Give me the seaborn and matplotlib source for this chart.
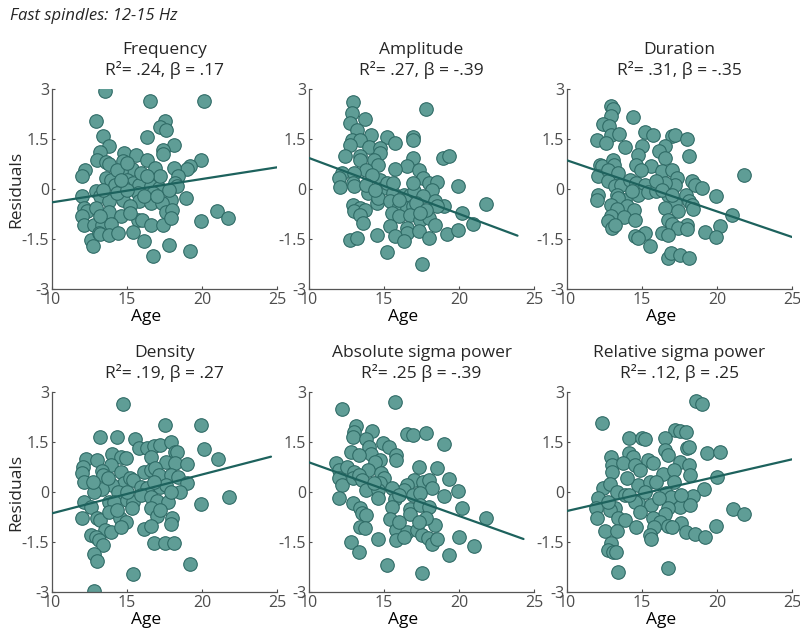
import numpy as np
import pandas as pd
import seaborn as sns
import matplotlib.pyplot as plt

# residuals vs age, fast spindles
freq_age = [13.5, 16.5, 20.1, 12.9, 17.5, 17.2, 17.6, 13.4, 16.3, 13.8, 18.1, 17.4, 17.4, 14.8, 15.6, 13.2,
            13.0, 13.6, 13.8, 14.7, 16.3, 19.95, 19.2, 19.0, 12.2, 12.0, 16.9, 18.1, 15.3, 14.6, 13.6, 13.9,
            18.4, 18.2, 18.3, 15.0, 15.4, 15.8, 16.9, 16.6, 17.1, 14.2, 14.7, 12.9, 13.2, 12.0, 15.7, 16.7,
            18.9, 17.9, 14.7, 13.8, 15.8, 16.6, 17.3, 12.1, 12.3, 12.9, 13.8, 15.2, 17.6, 18.0, 12.0, 14.6,
            21.0, 21.7, 19.9, 15.7, 16.0, 16.6, 17.4, 17.9, 12.1, 12.8, 13.3, 13.9, 12.6, 12.7, 13.1, 13.2,
            13.8, 14.4, 15.4, 16.1, 17.8, 19.2, 16.7, 14.3, 15.0, 15.9, 17.2, 13.4, 14.3, 15.0, 16.1, 17.0,
            17.8, 13.2, 15.2, 14.6, 16.3]
freq_res = [2.95, 2.63, 2.63, 2.03, 2.05, 1.85, 1.78, 1.58, 1.56, 1.30, 1.33, 1.18, 1.06, 1.08, 1.03, 1.10,
            0.86, 0.80, 0.76, 0.83, 0.88, 0.86, 0.68, 0.60, 0.56, 0.38, 0.63, 0.63, 0.60, 0.53, 0.33, 0.28,
            0.38, 0.18, 0.08, 0.28, 0.18, 0.13, 0.18, 0.08, 0.03, 0.13, 0.08, -0.07, -0.22, -0.20, -0.12, -0.12,
            -0.27, -0.32, -0.32, -0.37, -0.37, -0.42, -0.42, -0.57, -0.67, -0.57, -0.70, -0.52, -0.70, -0.62, -0.80, -0.80,
            -0.67, -0.87, -0.97, -0.92, -0.92, -1.07, -1.07, -0.87, -1.07, -1.07, -1.07, -1.04, -1.54, -1.70, -1.32, -1.34,
            -1.37, -1.32, -1.30, -1.57, -1.69, -1.87, -2.02, 0.58, 0.78, 0.48, 0.38, -0.02, -0.12, -0.02, -0.22, -0.22,
            -0.02, -0.82, -0.72, 0.28, 0.38]

amp_age = [12.93, 12.87, 13.76, 12.76, 13.2, 17.8, 14.1, 15.2, 15.76, 16.9, 16.9, 12.87, 13.4, 12.7, 14.0, 14.7,
           14.7, 12.4, 13.4, 13.4, 16.9, 18.9, 19.3, 14.3, 14.6, 16.5, 17.3, 13.8, 15.76, 12.2, 12.0, 12.04,
           13.0, 12.9, 13.0, 14.7, 14.2, 14.9, 15.2, 17.6, 18.0, 18.5, 18.2, 19.9, 13.9, 15.6, 16.3, 16.7,
           17.0, 17.6, 14.5, 14.6, 12.9, 13.4, 13.0, 13.7, 15.4, 16.0, 16.5, 16.9, 19.0, 18.4, 18.5, 20.2,
           21.8, 13.4, 13.6, 15.5, 16.0, 16.7, 17.4, 18.0, 18.4, 20.9, 15.4, 16.5, 16.5, 17.3, 15.76, 16.3,
           18.0, 19.2, 19.9, 14.5, 12.7, 13.2, 15.2, 17.5, 13.8, 15.6, 16.9, 14.4, 16.0, 17.1, 17.8, 17.4]
amp_res = [2.60, 2.28, 2.11, 1.98, 1.78, 2.41, 1.63, 1.56, 1.38, 1.55, 1.48, 1.48, 1.46, 1.33, 1.26, 1.23,
           1.08, 1.00, 0.98, 0.86, 0.93, 0.93, 1.00, 0.86, 0.73, 0.68, 0.58, 0.58, 0.60, 0.48, 0.33, 0.06,
           0.48, 0.18, 0.10, 0.28, 0.43, 0.03, 0.18, 0.33, 0.18, 0.20, -0.02, 0.08, -0.12, -0.12, -0.17, -0.17,
           -0.07, -0.22, -0.42, -0.27, -0.47, -0.57, -0.67, -0.62, -0.37, -0.52, -0.57, -0.52, -0.50, -0.37, -0.52, -0.72,
           -0.44, -0.79, -1.02, -0.72, -0.82, -0.79, -0.92, -0.87, -1.07, -1.04, -1.10, -1.17, -1.32, -1.25, -1.42, -1.57,
           -1.47, -1.35, -1.22, -1.37, -1.52, -1.47, -1.90, -2.24, 0.13, 0.18, 0.18, -0.02, -0.32, -0.42, -0.62, -0.72]

dur_age = [12.96, 13.07, 12.92, 14.4, 12.4, 12.8, 12.96, 13.45, 12.0, 12.6, 15.2, 15.7, 17.0, 17.2, 18.0, 13.85,
           15.0, 14.7, 16.5, 16.1, 16.5, 18.1, 12.2, 12.3, 13.07, 13.1, 14.6, 15.6, 14.9, 12.07, 12.74, 13.4,
           16.3, 17.0, 21.8, 17.3, 17.2, 12.74, 13.2, 13.6, 14.2, 14.6, 15.2, 16.5, 18.3, 18.5, 19.0, 12.07,
           12.0, 13.3, 14.7, 15.4, 15.9, 16.7, 17.9, 19.9, 13.85, 13.4, 17.2, 18.1, 18.3, 12.9, 14.0, 16.5,
           13.3, 14.45, 18.4, 17.4, 21.0, 12.96, 12.74, 13.8, 14.5, 16.7, 17.0, 18.0, 13.0, 13.2, 17.4, 18.0,
           20.2, 19.2, 19.95, 15.2, 14.5, 14.7, 16.3, 16.7, 15.5, 16.7, 16.9, 17.5, 18.15, 15.9, 16.3, 14.3,
           17.0]
dur_res = [2.48, 2.40, 2.18, 2.15, 1.96, 1.88, 1.63, 1.66, 1.46, 1.38, 1.71, 1.61, 1.58, 1.61, 1.50, 1.25,
           1.28, 1.03, 1.30, 1.13, 0.93, 1.00, 0.73, 0.68, 0.86, 0.73, 0.73, 0.68, 0.58, 0.38, 0.58, 0.48,
           0.53, 0.58, 0.43, 0.33, 0.13, 0.23, 0.08, 0.13, 0.28, 0.18, 0.13, 0.18, 0.23, 0.13, 0.03, -0.17,
           -0.34, -0.17, -0.17, -0.10, -0.07, -0.17, -0.17, -0.22, -0.32, -0.27, -0.42, -0.37, -0.47, -0.47, -0.52, -0.57,
           -0.60, -0.64, -0.60, -0.67, -0.79, -0.82, -0.97, -0.85, -0.92, -0.92, -1.04, -1.07, -1.17, -1.07, -1.17, -1.20,
           -1.12, -1.29, -1.45, -1.32, -1.40, -1.47, -1.32, -1.39, -1.72, -2.07, -1.92, -1.97, -2.07, 0.23, -0.02, -0.07,
           -0.17]

dens_age = [14.73, 17.56, 19.96, 13.2, 14.3, 15.56, 20.16, 21.04, 15.8, 16.3, 16.8, 17.2, 17.9, 18.2, 18.3, 14.0,
            14.6, 14.9, 12.27, 12.07, 12.0, 12.1, 13.0, 16.6, 17.6, 18.2, 19.0, 13.9, 13.3, 13.4, 14.6, 16.1,
            16.6, 16.9, 17.1, 17.9, 18.4, 19.0, 14.8, 15.2, 15.4, 14.0, 12.9, 13.3, 12.8, 14.4, 15.9, 16.3,
            17.2, 17.6, 18.5, 12.1, 12.6, 13.8, 14.1, 15.0, 15.4, 15.9, 16.6, 17.0, 17.7, 19.96, 21.8, 12.0,
            13.0, 13.2, 13.8, 14.5, 14.96, 15.3, 16.6, 17.0, 18.0, 13.5, 13.9, 12.6, 12.9, 13.1, 13.4, 14.6,
            16.1, 16.6, 17.96, 16.8, 17.5, 18.1, 12.8, 13.0, 19.2, 15.4, 12.8, 12.7, 13.7, 15.0, 16.8, 17.9,
            14.3, 17.2]
dens_res = [2.63, 2.01, 2.01, 1.66, 1.66, 1.59, 1.29, 0.98, 1.31, 1.31, 1.39, 1.41, 1.49, 1.21, 1.21, 1.13,
            1.06, 1.03, 0.98, 0.76, 0.56, 0.29, 0.96, 1.06, 0.91, 0.86, 0.83, 0.81, 0.63, 0.51, 0.61, 0.61,
            0.66, 0.71, 0.51, 0.51, 0.46, 0.26, 0.26, 0.41, 0.36, 0.21, 0.06, 0.09, 0.01, 0.01, 0.16, 0.11,
            0.16, 0.21, -0.01, -0.29, -0.44, -0.29, -0.29, -0.24, -0.29, -0.09, -0.14, -0.27, -0.29, -0.35, -0.16, -0.79,
            -0.79, -0.84, -0.59, -0.79, -0.89, -0.49, -0.49, -0.71, -0.77, -1.14, -1.19, -1.29, -1.34, -1.44, -1.59, -1.04,
            -1.11, -1.01, -0.97, -1.54, -1.54, -1.52, -1.86, -2.06, -2.17, -2.47, -2.96, 0.31, 0.41, 0.01, 0.31, 0.01,
            -0.54, -0.54]

abs_age = [12.2, 15.7, 13.1, 13.0, 12.9, 14.2, 13.8, 16.5, 16.9, 17.8, 19.0, 14.9, 15.3, 14.0, 14.1, 12.8,
           13.3, 15.8, 15.8, 14.7, 14.4, 11.8, 12.0, 12.0, 12.2, 12.5, 13.0, 12.9, 13.9, 14.8, 17.3, 18.5,
           13.3, 13.5, 15.0, 14.7, 17.0, 17.6, 18.0, 19.3, 18.2, 16.5, 16.3, 13.8, 14.6, 15.5, 19.9, 16.9,
           17.4, 12.0, 19.0, 14.6, 15.7, 12.9, 13.4, 13.5, 13.8, 15.5, 16.7, 16.7, 17.4, 18.0, 20.2, 21.8,
           15.4, 13.4, 13.7, 15.8, 16.5, 17.2, 18.4, 17.5, 17.9, 18.2, 18.5, 15.8, 16.3, 14.6, 12.8, 13.3,
           20.0, 21.0, 19.3, 15.2, 17.5, 14.3, 16.0, 17.8, 16.0, 17.3]
abs_res = [2.48, 2.71, 1.98, 1.81, 1.66, 1.83, 1.58, 1.74, 1.71, 1.78, 1.43, 1.46, 1.36, 1.36, 1.14, 1.21,
           1.11, 1.11, 0.96, 0.96, 0.91, 0.86, 0.66, 0.41, 0.21, 0.76, 0.61, 0.41, 0.66, 0.56, 0.74, 0.71,
           0.51, 0.36, 0.41, 0.26, 0.36, 0.31, 0.36, 0.39, 0.13, 0.21, 0.06, 0.06, 0.06, 0.11, 0.04, -0.09,
           -0.04, -0.19, -0.11, -0.19, -0.21, -0.34, -0.49, -0.64, -0.69, -0.44, -0.51, -0.67, -0.39, -0.44, -0.49, -0.79,
           -0.82, -1.04, -1.09, -1.14, -1.19, -1.14, -0.99, -1.29, -1.39, -1.57, -1.41, -1.44, -1.34, -1.41, -1.51, -1.79,
           -1.34, -1.61, -1.88, -2.19, -2.44, 0.26, -0.09, -0.79, -0.89, -0.89]

rel_age = [18.6, 19.0, 12.3, 17.2, 17.5, 17.9, 14.1, 15.0, 15.2, 16.5, 17.97, 18.1, 19.3, 20.2, 14.1, 14.4,
           12.96, 13.0, 13.0, 15.4, 15.7, 16.5, 16.75, 17.5, 18.1, 13.7, 14.5, 14.85, 12.4, 12.85, 16.4, 17.1,
           18.2, 20.0, 14.7, 15.5, 15.9, 17.1, 19.1, 12.07, 11.96, 12.0, 13.3, 13.85, 14.7, 15.6, 16.6, 16.95,
           18.4, 13.2, 12.85, 14.5, 17.5, 18.2, 21.05, 21.8, 16.75, 16.5, 13.4, 13.85, 15.7, 16.2, 17.6, 14.6,
           15.8, 16.75, 17.0, 19.9, 12.56, 13.3, 17.9, 18.5, 19.2, 15.5, 15.6, 12.9, 12.74, 13.07, 13.25, 13.4,
           16.75, 14.1, 15.2, 16.1, 17.6, 14.0, 12.7, 14.85]
rel_res = [2.74, 2.63, 2.06, 1.86, 1.83, 1.81, 1.63, 1.63, 1.59, 1.63, 1.31, 1.36, 1.16, 1.19, 1.16, 1.06,
           1.06, 0.81, 0.61, 0.96, 0.86, 1.26, 1.11, 0.91, 0.81, 0.86, 0.81, 0.66, 0.13, 0.23, 0.53, 0.66,
           0.51, 0.46, 0.21, 0.31, 0.31, 0.31, 0.09, -0.19, -0.49, -0.77, 0.01, -0.09, -0.29, -0.39, -0.04, -0.14,
           -0.12, -0.49, -0.54, -0.29, -0.44, -0.39, -0.52, -0.66, -0.49, -0.67, -0.79, -0.84, -0.79, -0.89, -0.94, -1.06,
           -1.06, -1.01, -1.06, -1.01, -1.16, -1.17, -1.19, -1.26, -1.34, -1.29, -1.42, -1.54, -1.74, -1.79, -1.79, -2.39,
           -2.29, -0.09, 0.01, -0.19, -0.09, 0.41, -0.29, -0.59]

titles = ["Frequency", "Amplitude", "Duration",
          "Density", "Absolute sigma power", "Relative sigma power"]
stats = ["R\u00b2= .24, \u03b2 = .17", "R\u00b2= .27, \u03b2 = -.39", "R\u00b2= .31, \u03b2 = -.35",
         "R\u00b2= .19, \u03b2 = .27", "R\u00b2= .25 \u03b2 = -.39", "R\u00b2= .12, \u03b2 = .25"]
# fitted line: value at age 10, end age, value at end age
fit_y0 = [-0.40, 0.93, 0.86, -0.64, 0.89, -0.57]
fit_x1 = [25.0, 23.9, 25.0, 24.6, 24.3, 25.0]
fit_y1 = [0.65, -1.40, -1.44, 1.06, -1.41, 0.98]

ages = [freq_age, amp_age, dur_age, dens_age, abs_age, rel_age]
resids = [freq_res, amp_res, dur_res, dens_res, abs_res, rel_res]

sns.set_style("white")
plt.rcParams['font.family'] = ['Open Sans', 'DejaVu Sans']

fill = '#5f9d96'
edge = '#2f6b66'
line_col = '#1d625d'

fig = plt.figure(figsize=(8, 6.28), dpi=100)
W, H = 800, 628
lefts = [52, 309, 567]
tops = [89, 392]

for i in range(6):
    r, c = divmod(i, 3)
    ax = fig.add_axes([lefts[c] / W, 1 - (tops[r] + 200) / H, 225 / W, 200 / H])
    df = pd.DataFrame({'age': ages[i], 'res': resids[i]})
    sns.scatterplot(data=df, x='age', y='res', ax=ax, s=95, color=fill,
                    edgecolor=edge, linewidth=0.8, zorder=2)
    fit = pd.DataFrame({'age': [10, fit_x1[i]], 'res': [fit_y0[i], fit_y1[i]]})
    sns.lineplot(data=fit, x='age', y='res', ax=ax, color=line_col, lw=1.6, zorder=3)
    ax.set_xlim(10, 25)
    ax.set_ylim(-3, 3)
    ax.set_xticks([10, 15, 20, 25])
    ax.set_yticks([-3, -1.5, 0, 1.5, 3])
    ax.set_yticklabels(['-3', '-1.5', '0', '1.5', '3'])
    ax.tick_params(direction='in', length=2.5, width=0.8, colors='#4d4d4d',
                   labelsize=11.5, pad=2, left=True, bottom=True)
    for s in ['top', 'right']:
        ax.spines[s].set_visible(False)
    for s in ['left', 'bottom']:
        ax.spines[s].set_color('#555555')
        ax.spines[s].set_linewidth(0.9)
    ax.set_xlabel('')
    ax.set_ylabel('')
    ax.text(0.42, -0.1, 'Age', transform=ax.transAxes, ha='center', va='top',
            fontsize=12.5, color='black')
    ax.set_title(titles[i] + '\n' + stats[i], fontsize=12.5, linespacing=1.25, pad=10)
    if c == 0:
        ax.set_ylabel('Residuals', fontsize=12.5)
        ax.yaxis.set_label_coords(-0.125, 0.5)

fig.text(0.013, 0.975, 'Fast spindles: 12-15 Hz', fontsize=12, style='italic', va='center')

fig.savefig('out.png', dpi=100)
